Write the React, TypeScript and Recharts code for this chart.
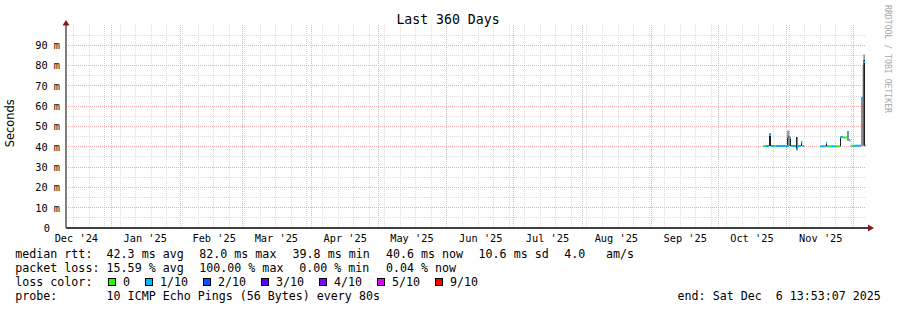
import React from "react";
import { ComposedChart, Line, Area, XAxis, YAxis, CartesianGrid, ReferenceDot } from "recharts";

const CHART_W = 897;
const CHART_H = 310;

// time window: 360 days ending Sat Dec 6 13:53:07 2025
const END_TIME = Date.UTC(2025, 11, 6, 13, 53, 7);
const SPAN_DAYS = 360;
const DAY_MS = 86400000;
const START_TIME = END_TIME - SPAN_DAYS * DAY_MS;
const toDay = (y: number, m: number, d: number) => (Date.UTC(y, m - 1, d) - START_TIME) / DAY_MS;

const monthLabels = ["Dec '24", "Jan '25", "Feb '25", "Mar '25", "Apr '25", "May '25", "Jun '25", "Jul '25", "Aug '25", "Sep '25", "Oct '25", "Nov '25"];
const monthFirsts: [number, number][] = [
  [2024, 12], [2025, 1], [2025, 2], [2025, 3], [2025, 4], [2025, 5], [2025, 6],
  [2025, 7], [2025, 8], [2025, 9], [2025, 10], [2025, 11], [2025, 12],
];
const firstSunday: [number, number, number] = [2024, 12, 15];
const yTickValues = [0, 10, 20, 30, 40, 50, 60, 70, 80, 90];
const yMinorValues = [5, 15, 25, 35, 45, 55, 65, 75, 85, 95];

// median rtt runs: day within the window, value in ms, loss level index
const runFrom = [313.65, 315.0, 316.35, 317.25, 318.6, 319.28, 325.35, 326.25, 328.5, 329.4, 330.75, 331.43,
  339.3, 342.0, 342.45, 343.35, 344.7, 346.5, 348.3, 349.65, 351.45, 352.35, 353.03, 353.48, 354.15, 357.98, 358.79, 359.69];
const runTo = [315.0, 316.35, 317.25, 318.6, 319.28, 325.35, 326.25, 328.5, 329.4, 330.75, 331.43, 332.1,
  342.0, 342.45, 343.35, 344.7, 346.5, 348.3, 349.65, 351.45, 352.35, 353.03, 353.48, 354.15, 357.98, 358.79, 359.69, 360];
const runMs = [40.4, 40.4, 45.8, 40.4, 40.4, 40.4, 44.3, 40.4, 38.8, 40.4, 42.3, 40.4,
  40.3, 42.0, 40.3, 40.3, 40.3, 40.3, 44.8, 44.6, 47.0, 43.2, 40.4, 40.5, 40.5, 63.8, 81.8, 40.6];
const runLoss = [0, 1, 1, 1, 0, 1, 1, 1, 1, 1, 1, 1,
  1, 1, 1, 0, 1, 0, 1, 0, 1, 1, 1, 0, 1, 1, 1, 1];

// smoke (rtt spread) bars
const smokeFrom = [316.35, 324.45, 325.13, 325.8, 328.5, 330.75, 342.0, 348.3, 351.68, 357.98, 358.79, 324.45, 358.43, 358.79];
const smokeTo = [317.25, 324.9, 325.58, 326.25, 329.18, 331.2, 342.45, 348.75, 352.13, 358.43, 359.55, 325.58, 358.79, 359.55];
const smokeLow = [40.4, 40.4, 40.4, 40.4, 38.8, 40.4, 40.3, 40.3, 43.0, 40.5, 40.5, 44.5, 63.0, 82.8];
const smokeHigh = [46.5, 44.5, 45.3, 44.8, 44.8, 42.6, 42.3, 44.9, 47.8, 64.5, 82.8, 48.0, 80.0, 85.5];
const smokeShade = ["dark", "dark", "dark", "dark", "dark", "dark", "dark", "dark", "dark", "dark", "dark", "light", "light", "light"];

const lossLabels = ["0", "1/10", "2/10", "3/10", "4/10", "5/10", "9/10"];
const lossColors = ["#26ff00", "#00b8ff", "#0059ff", "#5e00ff", "#7e00ff", "#dd00ff", "#ff0000"];

const rttStats = ["42.3 ms avg", "82.0 ms max", "39.8 ms min", "40.6 ms now", "10.6 ms sd", "4.0", "am/s"];
const lossStats = ["15.59 % avg", "100.00 % max", "0.00 % min", "0.04 % now"];
const probeText = "10 ICMP Echo Pings (56 Bytes) every 80s";
const endText = "end: Sat Dec  6 13:53:07 2025";
const titleText = "Last 360 Days";
const unitText = "Seconds";
const watermark = "RRDTOOL / TOBI OETIKER";

// derived
const monthDays = monthFirsts.map(([y, m]) => toDay(y, m, 1));
const monthGridDays = monthDays.filter((d) => d > 0 && d < SPAN_DAYS);
const labelDays = monthLabels.map((_, i) => monthDays[i] + 15.25);
const weekDays: number[] = [];
for (let d = toDay(...firstSunday); d < SPAN_DAYS; d += 7) weekDays.push(d);

const rows: any[] = [];
runFrom.forEach((f, i) => {
  const key = `m${runLoss[i]}`;
  rows.push({ d: f, [key]: runMs[i] }, { d: runTo[i], [key]: runMs[i] }, { d: runTo[i] });
});
smokeFrom.forEach((f, i) => {
  const key = smokeShade[i];
  const r = [smokeLow[i], smokeHigh[i]];
  rows.push({ d: f, [key]: r }, { d: smokeTo[i], [key]: r }, { d: smokeTo[i] });
});

const MONO = "'DejaVu Sans Mono', monospace";

const XTick = (p: any) => {
  const i = labelDays.indexOf(p.payload.value);
  return (
    <text x={p.x} y={p.y + 13.5} textAnchor="middle" fontFamily={MONO} fontSize={10.3} fill="#000">
      {monthLabels[i]}
    </text>
  );
};

const YTick = (p: any) => {
  const v = p.payload.value;
  return (
    <text x={v === 0 ? p.x - 16 : p.x - 6} y={p.y + 3.8} textAnchor="end" fontFamily={MONO} fontSize={10.3} fill="#000">
      {v === 0 ? "0" : `${v} m`}
    </text>
  );
};

const XArrow = (p: any) => (
  <g>
    <line x1={p.cx} x2={p.cx + 3} y1={p.cy} y2={p.cy} stroke="#000" strokeWidth={1.5} />
    <polygon points={`${p.cx + 2},${p.cy - 3.5} ${p.cx + 8},${p.cy} ${p.cx + 2},${p.cy + 3.5}`} fill="#8b1a1a" />
  </g>
);
const YArrow = (p: any) => (
  <polygon points={`${p.cx - 3.5},${p.cy + 0.5} ${p.cx},${p.cy - 5} ${p.cx + 3.5},${p.cy + 0.5}`} fill="#8b1a1a" />
);

const rttX = [106.6, 199.3, 292.6, 386, 478.6, 564.3, 606];
const lossX = [106.6, 199.3, 299.3, 386];

export default function App() {
  const boxes: { bx: number; lx: number }[] = [];
  let bx = 108;
  lossLabels.forEach((l) => {
    const lx = bx + 15;
    boxes.push({ bx, lx });
    bx = lx + l.length * 7 + 15;
  });

  const textProps = { fontFamily: MONO, fontSize: 11.65, fill: "#000", xmlSpace: "preserve" as any, style: { whiteSpace: "pre" as any } };

  return (
    <div style={{ position: "absolute", left: 0, top: 0, width: CHART_W, height: CHART_H, background: "#fff" }}>
      <ComposedChart width={CHART_W} height={CHART_H} data={rows} margin={{ top: 25, right: 31, bottom: 62, left: 0 }}>
        <CartesianGrid horizontal vertical horizontalValues={yMinorValues} verticalValues={weekDays}
          stroke="#dcdcdc" strokeDasharray="1 1" shapeRendering="crispEdges" />
        <CartesianGrid horizontal vertical horizontalValues={yTickValues.filter((v) => v > 0)} verticalValues={monthGridDays}
          stroke="#f4adad" strokeDasharray="1 1" shapeRendering="crispEdges" />
        <XAxis type="number" dataKey="d" domain={[0, SPAN_DAYS]} allowDataOverflow ticks={labelDays} interval={0}
          tick={<XTick />} tickLine={false} tickSize={0} tickMargin={0} height={20}
          axisLine={{ stroke: "#000", strokeWidth: 1.5 }} />
        <YAxis type="number" domain={[0, 100]} allowDataOverflow ticks={yTickValues} interval={0}
          tick={<YTick />} tickLine={false} tickSize={0} tickMargin={0} width={66}
          axisLine={{ stroke: "#555", strokeWidth: 1.5 }} />
        <Area dataKey="light" type="linear" stroke="none" fill="#9a9a9a" fillOpacity={1} connectNulls={false}
          isAnimationActive={false} dot={false} activeDot={false} />
        <Area dataKey="dark" type="linear" stroke="none" fill="#1e1e1e" fillOpacity={1} connectNulls={false}
          isAnimationActive={false} dot={false} activeDot={false} />
        {lossColors.map((c, i) => (
          <Line key={i} dataKey={`m${i}`} type="linear" stroke={c} strokeWidth={2} strokeLinecap="butt"
            connectNulls={false} dot={false} activeDot={false} isAnimationActive={false} />
        ))}
        <ReferenceDot x={SPAN_DAYS} y={0} ifOverflow="visible" shape={XArrow} />
        <ReferenceDot x={0} y={100} ifOverflow="visible" shape={YArrow} />
      </ComposedChart>
      <svg width={CHART_W} height={CHART_H} style={{ position: "absolute", left: 0, top: 0, pointerEvents: "none" }}>
        <text x={448} y={24} textAnchor="middle" fontFamily={MONO} fontSize={13.2} fill="#000">{titleText}</text>
        <text x={14} y={123.3} textAnchor="middle" transform="rotate(-90 14 123.3)" fontFamily="'DejaVu Sans', sans-serif" fontSize={11.4} fill="#000">{unitText}</text>
        <text x={884.6} y={5} transform="rotate(90 884.6 5)" fontFamily={MONO} fontSize={8.1} fill="#a8a8a8"
          textLength={108} lengthAdjust="spacingAndGlyphs">{watermark}</text>

        <text x={15.3} y={258.3} {...textProps}>median rtt:</text>
        {rttStats.map((s, i) => (
          <text key={i} x={rttX[i]} y={258.3} {...textProps}>{s}</text>
        ))}
        <text x={15.3} y={272.3} {...textProps}>packet loss:</text>
        {lossStats.map((s, i) => (
          <text key={i} x={lossX[i]} y={272.3} {...textProps}>{s}</text>
        ))}
        <text x={15.3} y={286.3} {...textProps}>loss color:</text>
        {boxes.map((b, i) => (
          <g key={i}>
            <rect x={b.bx + 0.5} y={278.5} width={7} height={7} fill={lossColors[i]} stroke="#000" strokeWidth={1} />
            <text x={b.lx} y={286.3} {...textProps}>{lossLabels[i]}</text>
          </g>
        ))}
        <text x={15.3} y={300.3} {...textProps}>probe:</text>
        <text x={106.6} y={300.3} {...textProps}>{probeText}</text>
        <text x={677.6} y={300.3} {...textProps}>{endText}</text>
      </svg>
    </div>
  );
}
